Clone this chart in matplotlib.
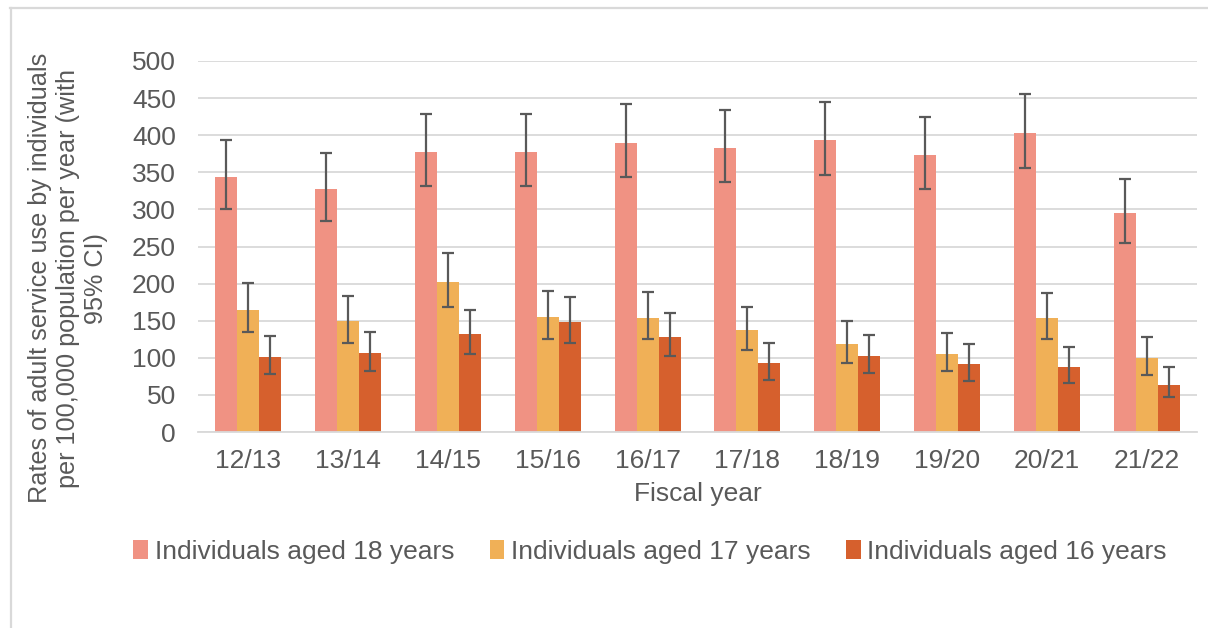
import matplotlib.pyplot as plt
import numpy as np
from matplotlib.lines import Line2D

years = ['12/13', '13/14', '14/15', '15/16', '16/17', '17/18', '18/19', '19/20', '20/21', '21/22']

age18 = [344, 327, 377, 378, 390, 383, 393, 373, 403, 295]
age18_lo = [300, 284, 331, 331, 344, 337, 346, 328, 356, 255]
age18_hi = [393, 376, 428, 428, 442, 434, 445, 424, 456, 341]

age17 = [165, 149, 202, 155, 154, 137, 118, 105, 154, 100]
age17_lo = [135, 120, 169, 126, 125, 110, 93, 82, 125, 77]
age17_hi = [201, 183, 241, 190, 189, 168, 149, 134, 188, 128]

age16 = [101, 106, 132, 148, 128, 93, 102, 91, 87, 64]
age16_lo = [78, 82, 105, 120, 102, 70, 79, 69, 66, 47]
age16_hi = [129, 135, 164, 182, 160, 120, 131, 118, 114, 88]

labels = ['Individuals aged 18 years', 'Individuals aged 17 years', 'Individuals aged 16 years']
colors = ['#F09283', '#F0B057', '#D6602D']

plt.rcParams['font.family'] = ['Liberation Sans', 'DejaVu Sans']
text_col = '#595959'
fs = 19

fig = plt.figure(figsize=(12.08, 6.28), dpi=100)
ax = fig.add_axes([198 / 1208, 1 - 432 / 628, 999 / 1208, 371 / 628])

x = np.arange(len(years))
w = 0.22
series = [(age18, age18_lo, age18_hi), (age17, age17_lo, age17_hi), (age16, age16_lo, age16_hi)]
for i, (vals, lo, hi) in enumerate(series):
    vals = np.array(vals)
    err = [vals - np.array(lo), np.array(hi) - vals]
    pos = x + (i - 1) * w
    ax.bar(pos, vals, width=w, color=colors[i], label=labels[i], zorder=2)
    ax.errorbar(pos, vals, yerr=err, fmt='none', ecolor=text_col, elinewidth=1.6,
                capsize=4.5, capthick=1.6, zorder=3)

ax.set_xlim(-0.5, len(years) - 0.5)
ax.set_ylim(0, 500)
ax.set_yticks(range(0, 501, 50))
ax.set_xticks(x)
ax.set_xticklabels(years)
ax.grid(axis='y', color='#D9D9D9', linewidth=1.3, zorder=0)
ax.set_axisbelow(True)
for s in ['top', 'right', 'left']:
    ax.spines[s].set_visible(False)
ax.spines['bottom'].set_color('#D9D9D9')
ax.spines['bottom'].set_linewidth(1.3)
ax.tick_params(axis='both', length=0, labelsize=fs, labelcolor=text_col)
ax.tick_params(axis='y', pad=16)
ax.tick_params(axis='x', pad=12)
ax.set_xlabel('Fiscal year', fontsize=fs, color=text_col, labelpad=7)

fig.text(68 / 1208, 1 - 278 / 628,
         'Rates of adult service use by individuals\nper 100,000 population per year (with\n95% CI)',
         rotation=90, ha='center', va='center', multialignment='center',
         fontsize=18.2, color=text_col, linespacing=1.2)

fig.legend(loc='center', bbox_to_anchor=(650 / 1208, 1 - 552 / 628), ncol=3, frameon=False,
           fontsize=fs, labelcolor=text_col, handlelength=0.55, handleheight=0.75,
           handletextpad=0.25, columnspacing=1.35)

# outer frame
fig.add_artist(Line2D([11 / 1208, 11 / 1208], [0, 1 - 8 / 628], transform=fig.transFigure,
                      color='#D9D9D9', linewidth=1.6))
fig.add_artist(Line2D([10 / 1208, 1], [1 - 8 / 628, 1 - 8 / 628], transform=fig.transFigure,
                      color='#D9D9D9', linewidth=1.6))

fig.savefig('out.png', dpi=100)
